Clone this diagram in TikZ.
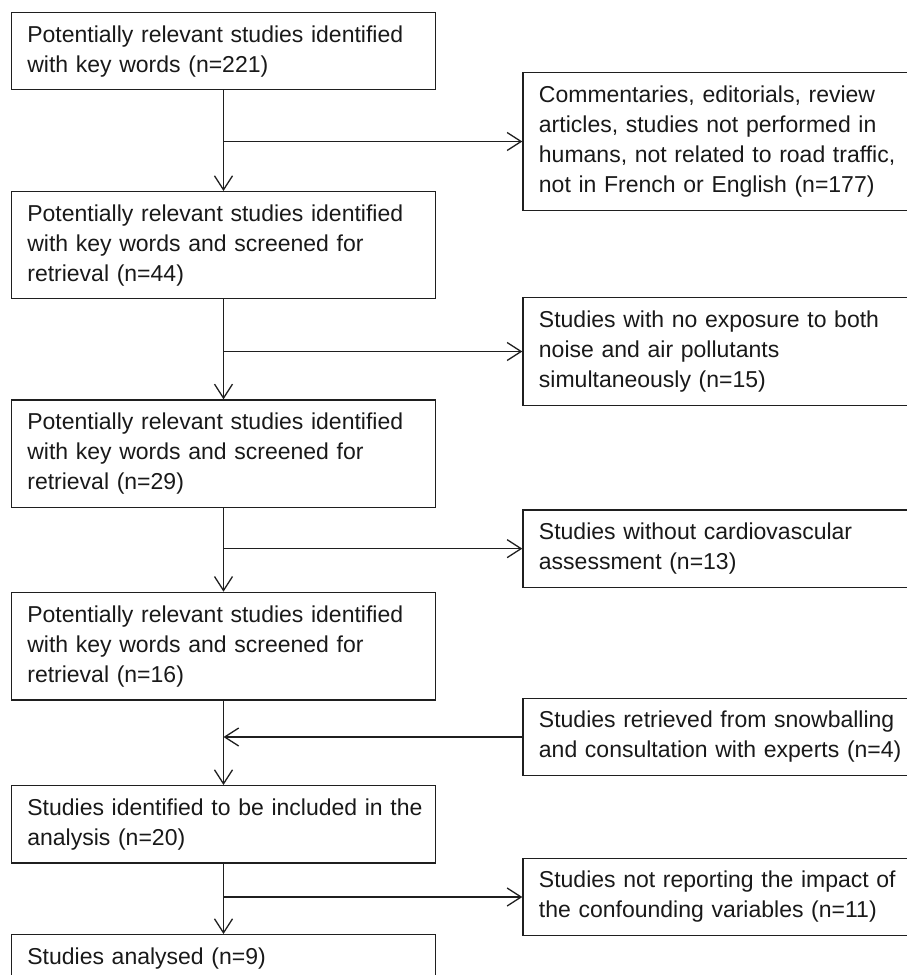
\documentclass[tikz,border=0pt]{standalone}
\usepackage{fontspec}
\setmainfont{Liberation Sans}
\usetikzlibrary{arrows.meta}
\newcommand{\myline}[1]{\mbox{#1}}
\begin{document}
\begin{tikzpicture}[x=1pt,y=-1pt,
  box/.style={draw=black!88, line width=1.3pt, anchor=north west, inner xsep=16pt, inner ysep=0pt,
    align=left, text=black!90, font=\fontsize{23}{30}\selectfont},
  lbox/.style={box, text width=392.3pt},
  rbox/.style={box, text width=360pt},
  conn/.style={line width=1.3pt, draw=black!88},
  arr/.style={conn, -{Straight Barb[length=14pt,width=18pt,line width=1.3pt]}}]
\useasboundingbox (0,0) rectangle (907,975);
\clip (0,0) rectangle (907,975);
\node[lbox, minimum height=77pt] (b1) at (10.7,12) {\myline{Potentially relevant studies identified}\\\myline{with key words (n=221)}};
\node[lbox, minimum height=107pt] (b2) at (10.7,191) {\myline{Potentially relevant studies identified}\\\myline{with key words and screened for}\\\myline{retrieval (n=44)}};
\node[lbox, minimum height=107.4pt] (b3) at (10.7,399.3) {\myline{Potentially relevant studies identified}\\\myline{with key words and screened for}\\\myline{retrieval (n=29)}};
\node[lbox, minimum height=107.6pt] (b4) at (10.7,591.7) {\myline{Potentially relevant studies identified}\\\myline{with key words and screened for}\\\myline{retrieval (n=16)}};
\node[lbox, minimum height=77.3pt] (b5) at (10.7,785) {\myline{Studies identified to be included in the}\\\myline{analysis (n=20)}};
\node[lbox, inner ysep=13pt] (b6) at (10.7,934) {\myline{Studies analysed (n=9)}};
\node[rbox, minimum height=138.3pt] (r1) at (522.3,71.7) {\myline{Commentaries, editorials, review}\\\myline{articles, studies not performed in}\\\myline{humans, not related to road traffic,}\\\myline{not in French or English (n=177)}};
\node[rbox, minimum height=108.3pt] (r2) at (522.3,296.7) {\myline{Studies with no exposure to both}\\\myline{noise and air pollutants}\\\myline{simultaneously (n=15)}};
\node[rbox, minimum height=77.4pt] (r3) at (522.3,509.3) {\myline{Studies without cardiovascular}\\\myline{assessment (n=13)}};
\node[rbox, minimum height=77.3pt] (r4) at (522.3,697.7) {\myline{Studies retrieved from snowballing}\\\myline{and consultation with experts (n=4)}};
\node[rbox, minimum height=77.3pt] (r5) at (522.3,857.7) {\myline{Studies not reporting the impact of}\\\myline{the confounding variables (n=11)}};
\coordinate (j1) at (b1.south |- r1.west);
\coordinate (j2) at (b2.south |- r2.west);
\coordinate (j3) at (b3.south |- r3.west);
\coordinate (j4) at (b4.south |- r4.west);
\coordinate (j5) at (b5.south |- r5.west);
\draw[arr] (b1.south) -- (b2.north);
\draw[arr] (b2.south) -- (b3.north);
\draw[arr] (b3.south) -- (b4.north);
\draw[arr] (b4.south) -- (b5.north);
\draw[arr] (b5.south) -- (b6.north);
\draw[arr] (j1) -- (r1.west);
\draw[arr] (j2) -- (r2.west);
\draw[arr] (j3) -- (r3.west);
\draw[arr] (r4.west) -- (j4);
\draw[arr] (j5) -- (r5.west);
\end{tikzpicture}
\end{document}
